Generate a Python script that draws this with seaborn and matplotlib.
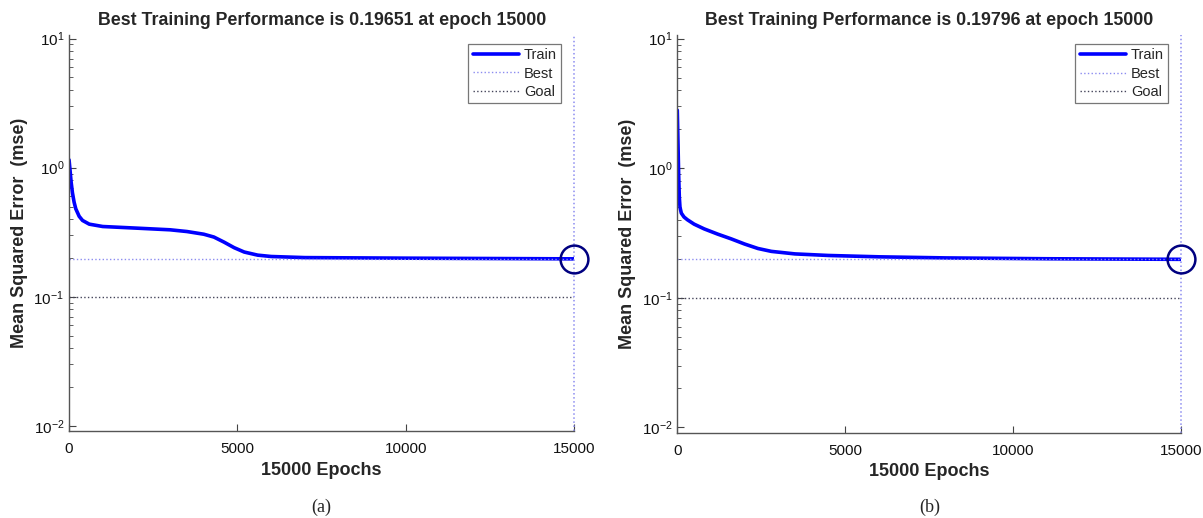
import numpy as np
import pandas as pd
import matplotlib
matplotlib.use("Agg")
import matplotlib.pyplot as plt
from matplotlib.lines import Line2D
import seaborn as sns

# ---- data ----
epochs_a = [0, 30, 60, 100, 150, 200, 300, 400, 600, 1000, 2000, 3000, 3500,
            4000, 4300, 4600, 4900, 5200, 5600, 6000, 7000, 10000, 15000]
mse_a = [1.15, 0.95, 0.78, 0.64, 0.54, 0.48, 0.42, 0.39, 0.365, 0.35, 0.34,
         0.33, 0.32, 0.305, 0.29, 0.265, 0.24, 0.222, 0.21, 0.205, 0.201,
         0.199, 0.19651]

epochs_b = [0, 20, 40, 60, 80, 120, 200, 300, 500, 800, 1200, 1600, 2000,
            2400, 2800, 3500, 4500, 6000, 8000, 11000, 15000]
mse_b = [2.8, 1.6, 0.9, 0.6, 0.5, 0.45, 0.42, 0.40, 0.37, 0.34, 0.31, 0.285,
         0.26, 0.24, 0.228, 0.218, 0.212, 0.207, 0.203, 0.2, 0.19796]

best_values = [0.19651, 0.19796]
best_epoch = 15000
goal = 0.1
captions = ["(a)", "(b)"]

best_color = "#8c8cf0"
goal_color = "#44445a"

sns.set_style("ticks")
plt.rcParams['font.family'] = ['Liberation Sans', 'DejaVu Sans']

fig = plt.figure(figsize=(12.03, 5.18), dpi=100)
ax_a = fig.add_axes([0.0574, 0.168, 0.42, 0.765])
ax_b = fig.add_axes([0.563, 0.165, 0.419, 0.768])

panels = [(ax_a, epochs_a, mse_a), (ax_b, epochs_b, mse_b)]

for i, (ax, ep, mse) in enumerate(panels):
    df = pd.DataFrame({"epoch": ep, "mse": mse})
    best = best_values[i]
    sns.lineplot(data=df, x="epoch", y="mse", ax=ax, color="#0000ff",
                 linewidth=2.6, label="Train", legend=False)
    ax.axhline(best, color=best_color, linestyle=":", linewidth=1.0)
    ax.axhline(goal, color=goal_color, linestyle=":", linewidth=1.0)
    ax.axvline(best_epoch, color=best_color, linestyle=":", linewidth=1.1,
               clip_on=False)
    ax.plot([best_epoch], [best], marker="o", markersize=20,
            markerfacecolor="none", markeredgecolor="#000080",
            markeredgewidth=1.8, clip_on=False)

    ax.set_yscale("log")
    ax.set_xlim(0, 15000)
    ax.set_ylim(10 ** -2.04, 10 ** 1.03)
    ax.set_xticks([0, 5000, 10000, 15000])
    ax.set_yticks([0.01, 0.1, 1, 10])
    ax.tick_params(axis="both", which="both", direction="in", colors="#444444",
                   labelcolor="#111111", labelsize=11)
    ax.tick_params(axis="both", which="major", length=5)
    ax.tick_params(axis="y", which="minor", length=3)
    ax.tick_params(axis="x", pad=8)
    for s in ["top", "right"]:
        ax.spines[s].set_visible(False)
    for s in ["left", "bottom"]:
        ax.spines[s].set_color("#555555")
        ax.spines[s].set_linewidth(1.0)

    ax.set_title(f"Best Training Performance is {best:.5f} at epoch {best_epoch}",
                 fontsize=12.8, fontweight="bold", pad=7)
    ax.set_xlabel(f"{best_epoch} Epochs", fontsize=13, fontweight="bold", labelpad=4)
    ax.set_ylabel("Mean Squared Error  (mse)", fontsize=13, fontweight="bold", labelpad=4)

    handles = [
        Line2D([], [], color="#0000ff", linewidth=2.6),
        Line2D([], [], color=best_color, linestyle=":", linewidth=1.0),
        Line2D([], [], color=goal_color, linestyle=":", linewidth=1.0),
    ]
    leg = ax.legend(handles, ["Train", "Best", "Goal"], loc="upper right",
                    bbox_to_anchor=(0.974, 0.977), fontsize=10.5, frameon=True,
                    fancybox=False, edgecolor="#555555", handlelength=3.2,
                    handletextpad=0.3, borderpad=0.3, labelspacing=0.3,
                    borderaxespad=0)
    leg.get_frame().set_linewidth(0.9)

    fig.text(ax.get_position().x0 + ax.get_position().width / 2, 0.004,
             captions[i], ha="center", va="bottom", fontsize=13,
             family=["Liberation Serif", "DejaVu Serif"])

fig.savefig("out.png", dpi=100)
